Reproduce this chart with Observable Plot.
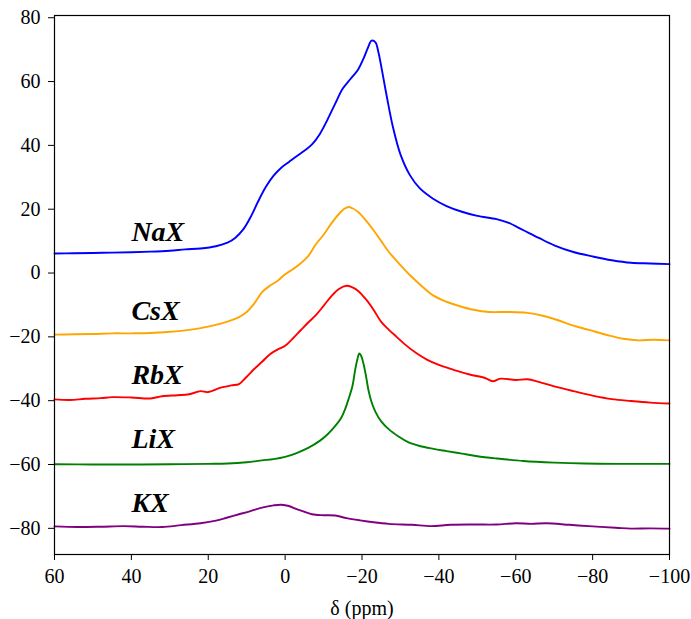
<!DOCTYPE html>
<html>
<head>
<meta charset="utf-8">
<script src="https://cdn.jsdelivr.net/npm/d3@7"></script>
<script src="https://cdn.jsdelivr.net/npm/@observablehq/plot@0.6"></script>
<style>
  html, body { margin: 0; padding: 0; background: #fff; }
</style>
</head>
<body>
<div id="chart"></div>
<script>
// Stacked NMR spectra of exchanged zeolites: [chemical shift δ (ppm), offset intensity]
const naX = [[60,6.1],[55,6.2],[50,6.3],[45,6.4],[40,6.5],[35,6.7],[30,7.0],[26,7.4],[22,7.7],[18,8.4],[15,9.5],[13,11.0],[11,13.5],[9,17.5],[7,22.5],[5,27.0],[3,30.5],[1,33.0],[-1,34.8],[-3,36.6],[-5,38.3],[-7,40.3],[-9,43.5],[-11,48.0],[-13,53.0],[-15,57.8],[-17,60.8],[-19,63.8],[-20.5,67.5],[-21.5,70.5],[-22.5,72.8],[-23.5,72.3],[-24.3,69.0],[-25.2,63.5],[-26.5,55.0],[-28,46.0],[-30,37.2],[-32.5,30.6],[-35,26.6],[-38.5,23.3],[-42,21.0],[-46,19.2],[-50,17.9],[-55,16.9],[-58,15.8],[-62,13.4],[-66,11.0],[-70,8.7],[-75,6.6],[-80,5.2],[-85,4.0],[-90,3.2],[-95,3.0],[-100,2.8]];
const csX = [[60,-19.3],[55,-19.2],[50,-19.1],[45,-18.9],[40,-18.9],[35,-18.8],[30,-18.4],[25,-17.8],[20,-16.8],[15,-15.2],[12,-13.8],[10,-12.2],[8,-9.5],[6,-6.0],[4,-4.0],[2,-2.5],[0,-0.4],[-2,1.2],[-4,3.0],[-6,5.3],[-8,9.0],[-10,12.0],[-12,15.5],[-14,18.5],[-15.5,20.2],[-16.5,20.7],[-17.5,20.3],[-19,19.1],[-21,16.5],[-23,13.4],[-25,10.0],[-27,6.6],[-30,2.5],[-32.5,-0.7],[-35,-3.5],[-38.5,-7.0],[-42,-9.0],[-45.5,-10.4],[-49,-11.5],[-53,-12.2],[-58,-12.2],[-63,-12.5],[-67,-13.4],[-71,-14.8],[-75,-16.5],[-79,-17.8],[-84,-19.5],[-88,-20.6],[-92,-21.1],[-96,-20.9],[-100,-21.1]];
const rbX = [[60,-39.6],[56,-39.8],[52,-39.4],[48,-39.2],[45,-38.9],[40,-39.0],[35,-39.3],[32,-38.6],[28,-38.3],[25,-38.0],[22,-37.0],[20,-37.3],[17,-36.0],[14,-35.2],[12,-34.8],[10,-32.5],[8,-30.0],[6,-27.8],[4,-25.5],[2,-24.0],[0,-22.8],[-2,-20.5],[-4,-18.0],[-6,-15.5],[-8,-13.2],[-10,-10.3],[-12,-7.3],[-14,-5.0],[-16,-4.0],[-17.5,-4.5],[-19,-5.6],[-21,-8.2],[-23,-11.5],[-25,-15.3],[-27,-17.8],[-29,-20.0],[-31,-22.2],[-34,-25.0],[-37,-27.2],[-40,-28.8],[-44,-30.4],[-48,-31.8],[-52,-32.9],[-54,-33.9],[-56,-33.1],[-60,-33.5],[-63,-33.3],[-66,-34.1],[-70,-35.5],[-75,-37.0],[-80,-38.4],[-85,-39.5],[-90,-40.1],[-95,-40.6],[-100,-40.9]];
const liX = [[60,-59.9],[50,-60.0],[40,-60.0],[30,-59.9],[20,-59.8],[15,-59.7],[10,-59.3],[6,-58.7],[3,-58.3],[0,-57.6],[-3,-56.4],[-6,-54.8],[-9,-52.6],[-11,-50.6],[-13,-48.0],[-14.5,-45.6],[-15.5,-43.0],[-16.5,-39.5],[-17.5,-35.5],[-18.2,-30.5],[-18.8,-27.0],[-19.3,-25.2],[-19.8,-26.0],[-20.4,-28.5],[-21,-32.0],[-21.7,-36.8],[-22.5,-40.5],[-23.5,-43.5],[-25,-46.5],[-27,-49.0],[-29.5,-51.2],[-32,-53.0],[-35,-54.2],[-38.6,-55.1],[-42,-55.8],[-46,-56.6],[-50,-57.4],[-55,-58.1],[-62,-58.9],[-70,-59.4],[-78,-59.7],[-88,-59.8],[-100,-59.8]];
const kX = [[60,-79.4],[54,-79.6],[48,-79.5],[42,-79.3],[37,-79.5],[32,-79.6],[27,-79.0],[22,-78.4],[18,-77.6],[15,-76.6],[12,-75.6],[9,-74.6],[6,-73.5],[3,-72.8],[1,-72.6],[-1,-73.0],[-3,-74.0],[-5,-74.8],[-7,-75.6],[-10,-75.9],[-13,-76.0],[-16,-76.8],[-19.5,-77.5],[-23,-78.1],[-27,-78.6],[-33,-78.9],[-38,-79.3],[-43,-78.9],[-49,-78.8],[-55,-78.8],[-60,-78.4],[-64,-78.6],[-68,-78.4],[-74,-78.9],[-80,-79.4],[-86,-79.8],[-90,-80.1],[-95,-80.0],[-100,-80.1]];

// Sample names and where each is written
const sampleNames = ["NaX", "CsX", "RbX", "LiX", "KX"];
const sampleColors = ["blue", "orange", "red", "green", "purple"];
const labelShift = [40, 40, 40, 40, 40];
const labelLevel = [12.8, -12, -32, -52, -72];

const xTicks = [60, 40, 20, 0, -20, -40, -60, -80, -100];
const yTicks = [-80, -60, -40, -20, 0, 20, 40, 60, 80];

const spectra = [naX, csX, rbX, liX, kX];
const labels = sampleNames.map((name, i) => ({name, x: labelShift[i], y: labelLevel[i]}));

const serif = "Liberation Serif, Times New Roman, serif";
const fmt = d3.format("d");

const chart = Plot.plot({
  width: 691,
  height: 619,
  marginLeft: 54,
  marginRight: 22,
  marginTop: 15,
  marginBottom: 65,
  style: {
    fontFamily: serif,
    fontSize: "20px",
    color: "#000",
    background: "#fff",
    overflow: "visible"
  },
  x: {domain: [60, -100]},
  y: {domain: [-88.2, 80.7]},
  marks: [
    ...spectra.map((s, i) => Plot.line(s, {x: d => d[0], y: d => d[1], stroke: sampleColors[i], strokeWidth: 1.9, curve: "catmull-rom"})),
    Plot.frame({stroke: "#000", strokeWidth: 1.2}),
    Plot.axisX(xTicks, {tickSize: 6, tickPadding: 8, tickFormat: fmt, fontSize: 20, label: "δ (ppm)", labelAnchor: "center", labelArrow: "none", labelOffset: 60}),
    Plot.axisY(yTicks, {tickSize: 6, tickPadding: 8, tickFormat: fmt, fontSize: 20, label: null}),
    Plot.text(labels, {x: "x", y: "y", text: "name", textAnchor: "start", lineAnchor: "middle", fontWeight: "bold", fontStyle: "italic", fontSize: 28, fill: "#000"})
  ]
});

document.getElementById("chart").appendChild(chart);
</script>
</body>
</html>
